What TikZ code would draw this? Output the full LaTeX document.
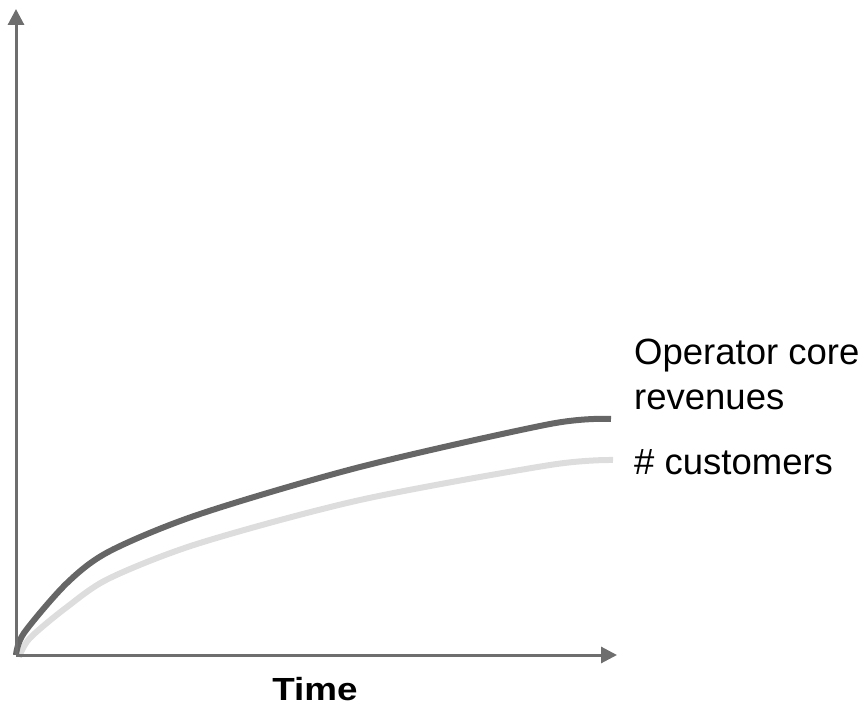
\documentclass[tikz,border=0pt]{standalone}
\usepackage{fontspec}
\setmainfont{Liberation Sans}
\usetikzlibrary{arrows.meta}
\definecolor{axisgray}{HTML}{6E6E6E}
\definecolor{darkcurve}{HTML}{666666}
\definecolor{lightcurve}{HTML}{DDDDDD}
\begin{document}
\begin{tikzpicture}[x=1pt,y=-1pt,
  axisline/.style={draw=axisgray,line width=3pt,-{Triangle[length=16pt,width=16pt]}},
  curvedark/.style={draw=darkcurve,line width=6pt},
  curvelight/.style={draw=lightcurve,line width=6pt},
  lbl/.style={inner sep=0pt,font=\fontsize{36.5}{45}\selectfont,align=left,anchor=base west},
]
\useasboundingbox (0,0) rectangle (867,708);
\coordinate (origin) at (16,655);
\coordinate (ytip) at (16,9);
\coordinate (xtip) at (617,655);
\draw[curvelight] plot[smooth] coordinates {(19,657) (30,638) (67,607) (110,578) (200,543) (360,500) (550,465) (613,460)};
\draw[curvedark] plot[smooth] coordinates {(16,655) (24,633) (67,583) (110,551) (200,514) (360,467) (550,424) (611,419)};
\draw[axisline] (origin) -- (ytip);
\draw[axisline] (origin) -- (xtip);
\node[lbl] (rev) at (634,409) {Operator core\\revenues};
\node[lbl] (cust) at (634,474) {\# customers};
\node[inner sep=0pt,anchor=base,font=\fontsize{32}{36}\selectfont\bfseries] (time) at (315,700) {\scalebox{1.15}[1]{Time}};
\end{tikzpicture}
\end{document}
